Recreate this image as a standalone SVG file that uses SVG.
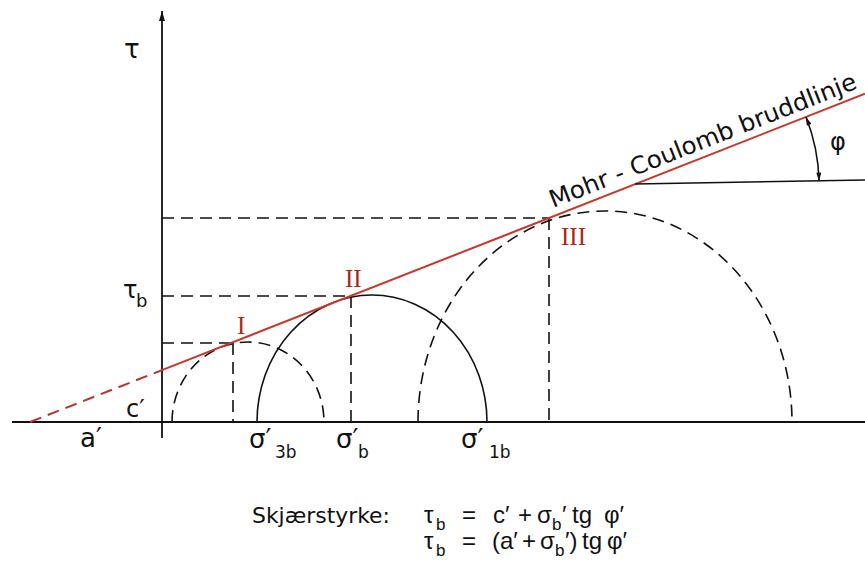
<svg xmlns="http://www.w3.org/2000/svg" width="865" height="564" viewBox="0 0 865 564">
<defs>
<marker id="ah" viewBox="0 0 10 6" refX="10" refY="3" markerWidth="10" markerHeight="6" markerUnits="userSpaceOnUse" orient="auto-start-reverse">
<path d="M0,0 L10,3 L0,6 Z" fill="#111"/>
</marker>
<marker id="ahs" viewBox="0 0 10 6" refX="10" refY="3" markerWidth="9" markerHeight="5" markerUnits="userSpaceOnUse" orient="auto-start-reverse">
<path d="M0,0 L10,3 L0,6 Z" fill="#111"/>
</marker>
</defs>
<style>
.ax{stroke:#111;stroke-width:1.8;fill:none}
.sol{stroke:#111;stroke-width:1.6;fill:none}
.dash{stroke:#111;stroke-width:1.6;fill:none;stroke-dasharray:12 7}
.red{stroke:#c8382a;stroke-width:2;fill:none}
.reddash{stroke:#b8342a;stroke-width:2;fill:none;stroke-dasharray:12 7}
.t{font-family:"DejaVu Sans","Liberation Sans",sans-serif;fill:#111}
.f{font-family:"Liberation Sans","DejaVu Sans",sans-serif;fill:#111}
.rom{font-family:"Liberation Serif","DejaVu Serif",serif;fill:#a8281c}
</style>
<rect width="865" height="564" fill="#fff"/>
<g id="axes">
<line class="ax" x1="12" y1="422" x2="865" y2="422"/>
<line class="ax" x1="162" y1="438" x2="162" y2="11" marker-end="url(#ah)"/>
</g>
<g id="circles">
<path id="circle-I" class="dash" d="M172,422 A76,80 0 0 1 324,422"/>
<path id="circle-II" class="sol" d="M257,422 A115,127 0 0 1 487,422"/>
<path id="circle-III" class="dash" d="M418,422 A187,211 0 0 1 792,422"/>
</g>
<g id="connectors">
<line class="dash" x1="162" y1="343" x2="233" y2="343"/>
<line class="dash" x1="162" y1="296" x2="351" y2="296"/>
<line class="dash" x1="162" y1="218" x2="549" y2="218"/>
<line class="dash" x1="233" y1="343" x2="233" y2="422"/>
<line class="dash" x1="351" y1="296" x2="351" y2="422"/>
<line class="dash" x1="549" y1="218" x2="549" y2="422"/>
<line class="reddash" x1="30" y1="422" x2="162" y2="370.1"/>
<line class="red" x1="162" y1="370.1" x2="865" y2="93.8"/>
<line class="sol" x1="635" y1="184" x2="865" y2="180"/>
<path class="sol" d="M806,117 A184,184 0 0 1 819,181" marker-start="url(#ahs)" marker-end="url(#ahs)"/>
</g>
<g id="labels">
<text class="t" x="124" y="58" font-size="26">τ</text>
<text class="t" x="123" y="298" font-size="24">τ<tspan x="136" y="307" font-size="18">b</tspan></text>
<text class="t" x="126" y="417" font-size="24">c′</text>
<text class="t" x="80" y="447" font-size="26">a′</text>
<text class="t" x="249" y="448" font-size="26">σ′<tspan x="275" y="458" font-size="17">3b</tspan></text>
<text class="t" x="336" y="448" font-size="26">σ′<tspan x="358" y="458" font-size="17">b</tspan></text>
<text class="t" x="461" y="448" font-size="26">σ′<tspan x="489" y="458" font-size="17">1b</tspan></text>
<text class="t" x="830" y="150" font-size="24">φ</text>
<text class="t" font-size="24" transform="translate(553,208) rotate(-21.46)" textLength="328" lengthAdjust="spacingAndGlyphs">Mohr - Coulomb bruddlinje</text>
</g>
<g id="points">
<text class="rom" x="237" y="334" font-size="25">I</text>
<text class="rom" x="345" y="287" font-size="25">II</text>
<text class="rom" x="561" y="245" font-size="25">III</text>
</g>
<g id="formula">
<text class="t" x="252" y="523" font-size="21" textLength="138" lengthAdjust="spacingAndGlyphs">Skjærstyrke:</text>
<text class="f" font-size="24" y="523"><tspan x="424">τ</tspan><tspan x="436" y="530" font-size="17">b</tspan><tspan x="462" y="523">=</tspan><tspan x="493">c′</tspan><tspan x="518">+</tspan><tspan x="537">σ</tspan><tspan x="552" y="530" font-size="17">b</tspan><tspan x="562" y="523">′</tspan><tspan x="572">tg</tspan><tspan x="604">φ′</tspan></text>
<text class="f" font-size="24" y="549"><tspan x="424">τ</tspan><tspan x="436" y="556" font-size="17">b</tspan><tspan x="462" y="549">=</tspan><tspan x="492">(a′</tspan><tspan x="522">+</tspan><tspan x="540">σ</tspan><tspan x="555" y="556" font-size="17">b</tspan><tspan x="565" y="549">′)</tspan><tspan x="582">tg</tspan><tspan x="607">φ′</tspan></text>
</g>
</svg>
